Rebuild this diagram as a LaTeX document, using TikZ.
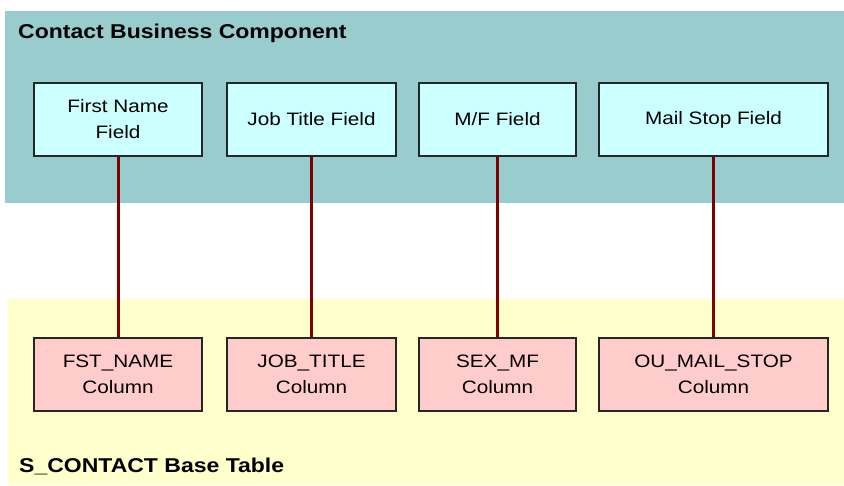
\documentclass[tikz,border=0pt]{standalone}
\usepackage{fontspec}
\setmainfont{Liberation Sans}[FakeStretch=1.15]
\definecolor{bcteal}{HTML}{99CCCC}
\definecolor{fieldcyan}{HTML}{CCFFFF}
\definecolor{tableyellow}{HTML}{FFFFCC}
\definecolor{colpink}{HTML}{FFCCCC}
\definecolor{maproot}{HTML}{800000}
\tikzset{
  field/.style={draw=black!85, fill=fieldcyan, line width=1.2pt, inner sep=0pt,
    minimum height=73pt, align=center, font=\fontsize{18}{26}\selectfont},
  column/.style={field, fill=colpink},
  maplink/.style={draw=maproot, line width=3pt},
  bandtitle/.style={anchor=west, inner sep=0pt, font=\bfseries\fontsize{20}{24}\selectfont}
}
\begin{document}
\begin{tikzpicture}[x=1pt,y=-1pt]
\useasboundingbox (0,0) rectangle (844,485);
% Business component and base table
\fill[bcteal] (5,11) rectangle (844,203);
\fill[tableyellow] (8,299) rectangle (844,485);
\node[bandtitle] (bc) at (18,33) {Contact Business Component};
\node[bandtitle] (tbl) at (19,466) {S\_CONTACT Base Table};
% Fields
\node[field, minimum width=168pt] (fname) at (118,119.5) {First Name\\Field};
\node[field, minimum width=169pt] (jtitle) at (311.5,119.5) {Job Title Field};
\node[field, minimum width=157pt] (mf) at (497.5,119.5) {M/F Field};
\node[field, minimum width=229pt] (mstop) at (713.5,119.5) {Mail Stop Field};
% Columns
\node[column, minimum width=168pt] (fstname) at (118,374.5) {FST\_NAME\\Column};
\node[column, minimum width=169pt] (jobtitle) at (311.5,374.5) {JOB\_TITLE\\Column};
\node[column, minimum width=157pt] (sexmf) at (497.5,374.5) {SEX\_MF\\Column};
\node[column, minimum width=229pt] (oumail) at (713.5,374.5) {OU\_MAIL\_STOP\\Column};
% Mappings
\draw[maplink] (fname) -- (fstname);
\draw[maplink] (jtitle) -- (jobtitle);
\draw[maplink] (mf) -- (sexmf);
\draw[maplink] (mstop) -- (oumail);
\end{tikzpicture}
\end{document}
